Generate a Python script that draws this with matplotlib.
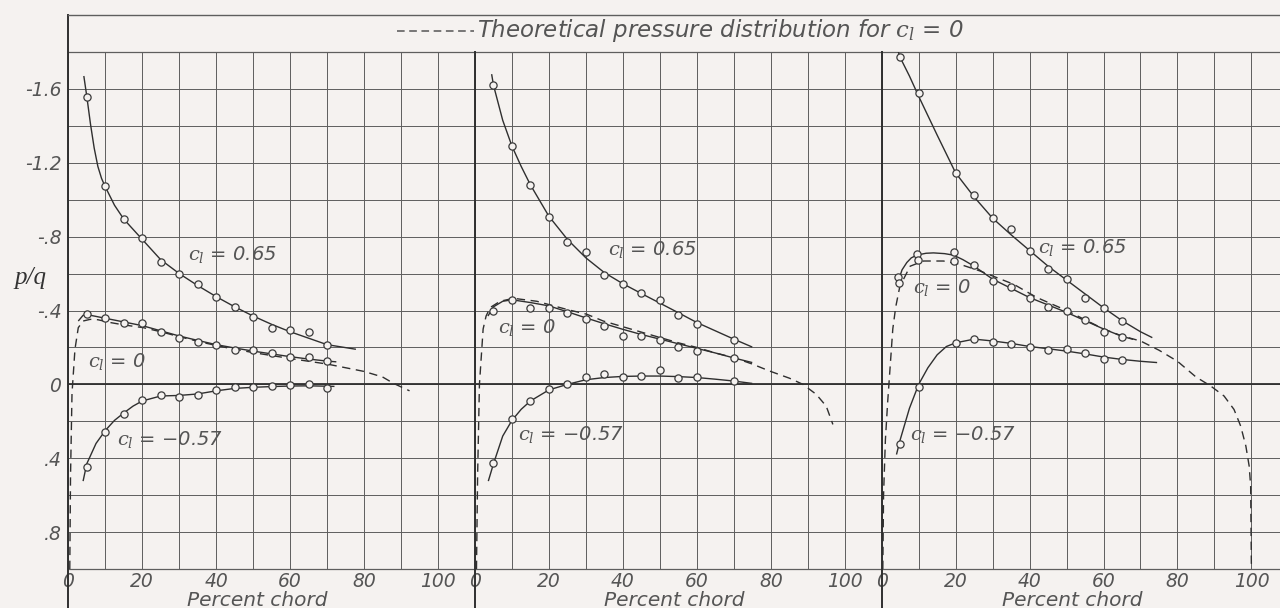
import matplotlib
matplotlib.use('Agg')
import matplotlib.pyplot as plt
from matplotlib.lines import Line2D
from matplotlib import transforms
import numpy as np

# ---------------- data (percent chord, p/q) ----------------
# Panel 1
p1_x = [5, 10, 15, 20, 25, 30, 35, 40, 45, 50, 55, 60, 65, 70]
p1_cl065 = [-1.557, -1.075, -0.894, -0.79, -0.663, -0.60, -0.542, -0.473, -0.42, -0.365, -0.307, -0.293, -0.284, -0.213]
p1_cl0 = [-0.379, -0.358, -0.335, -0.335, -0.285, -0.253, -0.231, -0.211, -0.186, -0.186, -0.168, -0.148, -0.15, -0.126]
p1_clm057 = [0.448, 0.256, 0.163, 0.085, 0.058, 0.067, 0.058, 0.031, 0.015, 0.015, 0.009, 0.005, 0.0, 0.022]

p1_c065_fx = [4.2, 5, 6, 7, 8, 9, 10, 12.5, 15, 20, 25, 30, 35, 40, 45, 50, 55, 60, 65, 70, 77.8]
p1_c065_fy = [-1.67, -1.56, -1.41, -1.28, -1.18, -1.115, -1.07, -0.97, -0.895, -0.785, -0.675, -0.60, -0.535, -0.475, -0.42, -0.37, -0.325, -0.285, -0.25, -0.215, -0.19]
p1_c0_fx = [2.7, 4, 5, 7.5, 10, 15, 20, 25, 30, 35, 40, 45, 50, 55, 60, 65, 70, 72.5]
p1_c0_fy = [-0.343, -0.374, -0.378, -0.368, -0.358, -0.338, -0.318, -0.29, -0.262, -0.238, -0.215, -0.197, -0.18, -0.165, -0.15, -0.137, -0.126, -0.122]
p1_cm_fx = [4, 5, 7.5, 10, 12.5, 15, 17.5, 20, 25, 30, 35, 40, 45, 50, 55, 60, 65, 70, 72]
p1_cm_fy = [0.524, 0.43, 0.32, 0.25, 0.195, 0.155, 0.118, 0.09, 0.063, 0.06, 0.052, 0.035, 0.022, 0.016, 0.012, 0.009, 0.008, 0.01, 0.011]
p1_th_x = [0.4, 0.6, 1.0, 1.8, 2.7, 4.0, 5.9, 8.0, 11.3, 15, 20.3, 25, 29.3, 36.5, 43, 50, 60, 70, 80, 85, 88, 92.3]
p1_th_y = [1.0, 0.5, 0.05, -0.19, -0.307, -0.343, -0.352, -0.350, -0.335, -0.322, -0.307, -0.285, -0.262, -0.226, -0.198, -0.172, -0.14, -0.11, -0.07, -0.04, -0.005, 0.035]

# Panel 2
p2_x = [5, 10, 15, 20, 25, 30, 35, 40, 45, 50, 55, 60, 70]
p2_cl065 = [-1.62, -1.292, -1.08, -0.909, -0.773, -0.719, -0.591, -0.546, -0.493, -0.455, -0.376, -0.325, -0.24]
p2_cl0 = [-0.40, -0.455, -0.416, -0.416, -0.386, -0.356, -0.316, -0.264, -0.262, -0.242, -0.202, -0.18, -0.141]
p2_clm057 = [0.425, 0.19, 0.09, 0.023, 0.0, -0.038, -0.058, -0.04, -0.045, -0.076, -0.036, -0.04, -0.018]

p2_c065_fx = [4.5, 5, 7.5, 10, 12.5, 15, 20, 25, 30, 35, 40, 45, 50, 55, 60, 65, 70, 75]
p2_c065_fy = [-1.68, -1.62, -1.43, -1.29, -1.18, -1.08, -0.91, -0.785, -0.685, -0.605, -0.545, -0.492, -0.44, -0.388, -0.335, -0.29, -0.245, -0.202]
p2_c0_fx = [3.5, 5, 7.5, 10, 15, 20, 25, 30, 35, 40, 45, 50, 55, 60, 65, 70, 75]
p2_c0_fy = [-0.37, -0.42, -0.45, -0.458, -0.443, -0.425, -0.393, -0.36, -0.328, -0.298, -0.27, -0.245, -0.22, -0.195, -0.17, -0.143, -0.118]
p2_cm_fx = [3.6, 5, 7.5, 10, 12.5, 15, 20, 25, 30, 35, 40, 45, 50, 55, 60, 65, 70, 75]
p2_cm_fy = [0.524, 0.43, 0.28, 0.195, 0.135, 0.09, 0.03, 0.0, -0.025, -0.037, -0.043, -0.045, -0.045, -0.042, -0.037, -0.028, -0.018, -0.005]
p2_th_x = [0.4, 0.7, 1.2, 2.2, 3.0, 4.1, 6.8, 10.4, 16.7, 24.8, 30.2, 34.7, 45.5, 55, 60, 65, 70, 75, 79.7, 85.1, 88.7, 92.3, 95, 96.8]
p2_th_y = [1.0, 0.5, 0.0, -0.30, -0.37, -0.416, -0.45, -0.466, -0.45, -0.406, -0.38, -0.343, -0.28, -0.225, -0.20, -0.17, -0.145, -0.11, -0.072, -0.033, 0.0, 0.054, 0.118, 0.217]

# Panel 3
p3_x065 = [5, 10, 20, 25, 30, 35, 40, 45, 50, 55, 60, 65]
p3_cl065 = [-1.771, -1.576, -1.147, -1.024, -0.903, -0.844, -0.723, -0.627, -0.569, -0.47, -0.416, -0.343]
p3_x0 = [4.3, 4.8, 9.5, 9.7, 19.6, 19.6, 25, 30, 35, 40, 45, 50, 55, 60, 65]
p3_cl0 = [-0.582, -0.547, -0.708, -0.672, -0.717, -0.668, -0.645, -0.56, -0.527, -0.465, -0.42, -0.40, -0.347, -0.286, -0.256]
p3_xm = [5, 10, 20, 25, 30, 35, 40, 45, 50, 55, 60, 65]
p3_clm057 = [0.322, 0.015, -0.226, -0.248, -0.229, -0.221, -0.202, -0.186, -0.193, -0.168, -0.136, -0.13]

p3_c065_fx = [4.5, 5, 7.5, 10, 15, 20, 25, 30, 35, 40, 45, 50, 55, 60, 65, 70, 73.2]
p3_c065_fy = [-1.80, -1.77, -1.67, -1.56, -1.35, -1.145, -1.015, -0.90, -0.81, -0.725, -0.64, -0.565, -0.49, -0.415, -0.345, -0.285, -0.253]
p3_c0_fx = [4.5, 5.5, 6.8, 8, 9.5, 12, 14, 17, 19.4, 22, 25, 30, 35, 40, 45, 50, 55, 60, 65, 68]
p3_c0_fy = [-0.56, -0.62, -0.66, -0.685, -0.70, -0.71, -0.712, -0.708, -0.70, -0.675, -0.64, -0.57, -0.52, -0.47, -0.43, -0.39, -0.345, -0.30, -0.26, -0.244]
p3_cm_fx = [4, 5, 7.5, 10, 12.5, 15, 17.5, 20, 25, 30, 35, 40, 45, 50, 55, 60, 65, 70, 74.5]
p3_cm_fy = [0.38, 0.30, 0.13, 0.0, -0.09, -0.16, -0.205, -0.225, -0.245, -0.235, -0.222, -0.205, -0.193, -0.18, -0.165, -0.148, -0.135, -0.125, -0.118]
p3_th_x = [0.3, 0.5, 1.0, 1.6, 2.3, 3.0, 3.8, 4.9, 7.7, 11.3, 16.7, 21.2, 26.6, 35.7, 42, 50, 60, 65, 70, 75, 80, 85, 89, 92.6, 95.3, 97.1, 98.5, 99.4, 99.8, 100]
p3_th_y = [1.0, 0.6, 0.3, 0.1, -0.1, -0.3, -0.42, -0.53, -0.64, -0.668, -0.668, -0.65, -0.614, -0.542, -0.47, -0.40, -0.30, -0.262, -0.235, -0.185, -0.125, -0.04, 0.009, 0.063, 0.136, 0.226, 0.334, 0.443, 0.551, 1.0]

x_major = [0, 20, 40, 60, 80, 100]
x_labels = ['0', '20', '40', '60', '80', '100']
y_major = [-1.6, -1.2, -0.8, -0.4, 0, 0.4, 0.8]
y_labels = ['-1.6', '-1.2', '-.8', '-.4', '0', '.4', '.8']

series_labels = [r'$c_l$ = 0.65', r'$c_l$ = 0', r'$c_l$ = $-$0.57']
label_pos = [
    [(32.4, -0.705), (5.3, -0.125), (13.2, 0.30)],
    [(36.0, -0.73), (6.3, -0.307), (11.7, 0.27)],
    [(42.4, -0.74), (8.6, -0.524), (7.7, 0.27)],
]

panels = [
    dict(pts=[(p1_x, p1_cl065), (p1_x, p1_cl0), (p1_x, p1_clm057)],
         fair=[(p1_c065_fx, p1_c065_fy), (p1_c0_fx, p1_c0_fy), (p1_cm_fx, p1_cm_fy)],
         theo=(p1_th_x, p1_th_y)),
    dict(pts=[(p2_x, p2_cl065), (p2_x, p2_cl0), (p2_x, p2_clm057)],
         fair=[(p2_c065_fx, p2_c065_fy), (p2_c0_fx, p2_c0_fy), (p2_cm_fx, p2_cm_fy)],
         theo=(p2_th_x, p2_th_y)),
    dict(pts=[(p3_x065, p3_cl065), (p3_x0, p3_cl0), (p3_xm, p3_clm057)],
         fair=[(p3_c065_fx, p3_c065_fy), (p3_c0_fx, p3_c0_fy), (p3_cm_fx, p3_cm_fy)],
         theo=(p3_th_x, p3_th_y)),
]

# ---------------- styling ----------------
plt.rcParams['mathtext.fontset'] = 'dejavuserif'
BG = '#f5f2f0'
LINE = '#2f2f2f'
GRID = '#5e5e5e'
TXT = '#555555'
FONT = 'DejaVu Sans'

W, H = 1280, 608
fig = plt.figure(figsize=(12.8, 6.08), dpi=100, facecolor=BG)


def fx(px):
    return px / W


def fy(py):
    return 1 - py / H


grid_top, grid_bot = 52, 569
panel_left = [68.3, 475.0, 881.7]
px_per10 = 36.97
label_x_center = [51, 54, 51.5]

for i, left in enumerate(panel_left):
    right = panel_left[i + 1] if i < 2 else W
    ax = fig.add_axes([fx(left), fy(grid_bot), fx(right - left), (grid_bot - grid_top) / H])
    ax.set_facecolor(BG)
    ax.set_xlim(0, (right - left) / px_per10 * 10)
    ax.set_ylim(1.0, -1.8)

    ax.set_xticks(x_major)
    ax.set_xticklabels(x_labels)
    ax.set_xticks(np.arange(10, 101, 20), minor=True)
    ax.set_yticks(np.round(np.arange(-1.8, 1.01, 0.2), 2), minor=True)
    ax.set_yticks(y_major)
    if i == 0:
        ax.set_yticklabels(y_labels)
    else:
        ax.set_yticklabels([])
    ax.tick_params(which='both', length=0, colors=TXT)
    ax.tick_params(axis='x', pad=2, labelsize=13.5)
    ax.tick_params(axis='y', pad=5, labelsize=13.5)
    for lab in ax.get_xticklabels() + ax.get_yticklabels():
        lab.set_fontstyle('italic')
        lab.set_family(FONT)
        lab.set_color(TXT)
    ax.grid(True, which='both', color=GRID, lw=0.7)
    ax.set_axisbelow(True)
    for s in ['top', 'bottom']:
        ax.spines[s].set_color(GRID)
        ax.spines[s].set_linewidth(0.9)
    for s in ['left', 'right']:
        ax.spines[s].set_visible(False)
    ax.axhline(0, color=LINE, lw=1.3, zorder=2)

    p = panels[i]
    tx, ty = p['theo']
    ax.plot(tx, ty, color=LINE, lw=1.0, dashes=(6, 4), zorder=3)
    for (fxs, fys) in p['fair']:
        ax.plot(fxs, fys, color=LINE, lw=1.0, zorder=3, solid_capstyle='butt')
    for (xs, ys) in p['pts']:
        ax.plot(xs, ys, 'o', ms=5.2, mfc=BG, mec='#3a3a3a', mew=0.9, zorder=5,
                clip_on=False)
    for lab, (lx, ly) in zip(series_labels, label_pos[i]):
        ax.text(lx, ly, lab, fontsize=14, style='italic', family=FONT, color=TXT,
                ha='left', va='center', zorder=6)

    tr = transforms.blended_transform_factory(ax.transData, fig.transFigure)
    ax.text(label_x_center[i], fy(600), 'Percent chord', transform=tr, fontsize=14.5,
            style='italic', family=FONT, color=TXT, ha='center', va='center')

# panel separators and frame lines
for i, left in enumerate(panel_left):
    top = 15 if i == 0 else grid_top
    fig.add_artist(Line2D([fx(left), fx(left)], [fy(H), fy(top)], color=LINE, lw=1.4,
                          transform=fig.transFigure))
fig.add_artist(Line2D([fx(panel_left[0]), 1], [fy(15), fy(15)], color=GRID, lw=1.0,
                      transform=fig.transFigure))

# header key: dashed sample + text
fig.add_artist(Line2D([fx(397), fx(474)], [fy(31), fy(31)], color=TXT, lw=1.1,
                      dashes=(5, 3), transform=fig.transFigure))
fig.text(fx(477), fy(31), 'Theoretical pressure distribution for $c_l$ = 0',
         fontsize=16.5, style='italic', family=FONT, color=TXT, ha='left', va='center')
fig.text(fx(30), fy(278), 'p/q', fontsize=18, style='italic', family='Liberation Serif',
         color='#333333', ha='center', va='center')

fig.savefig('out.png', dpi=100, facecolor=BG)
